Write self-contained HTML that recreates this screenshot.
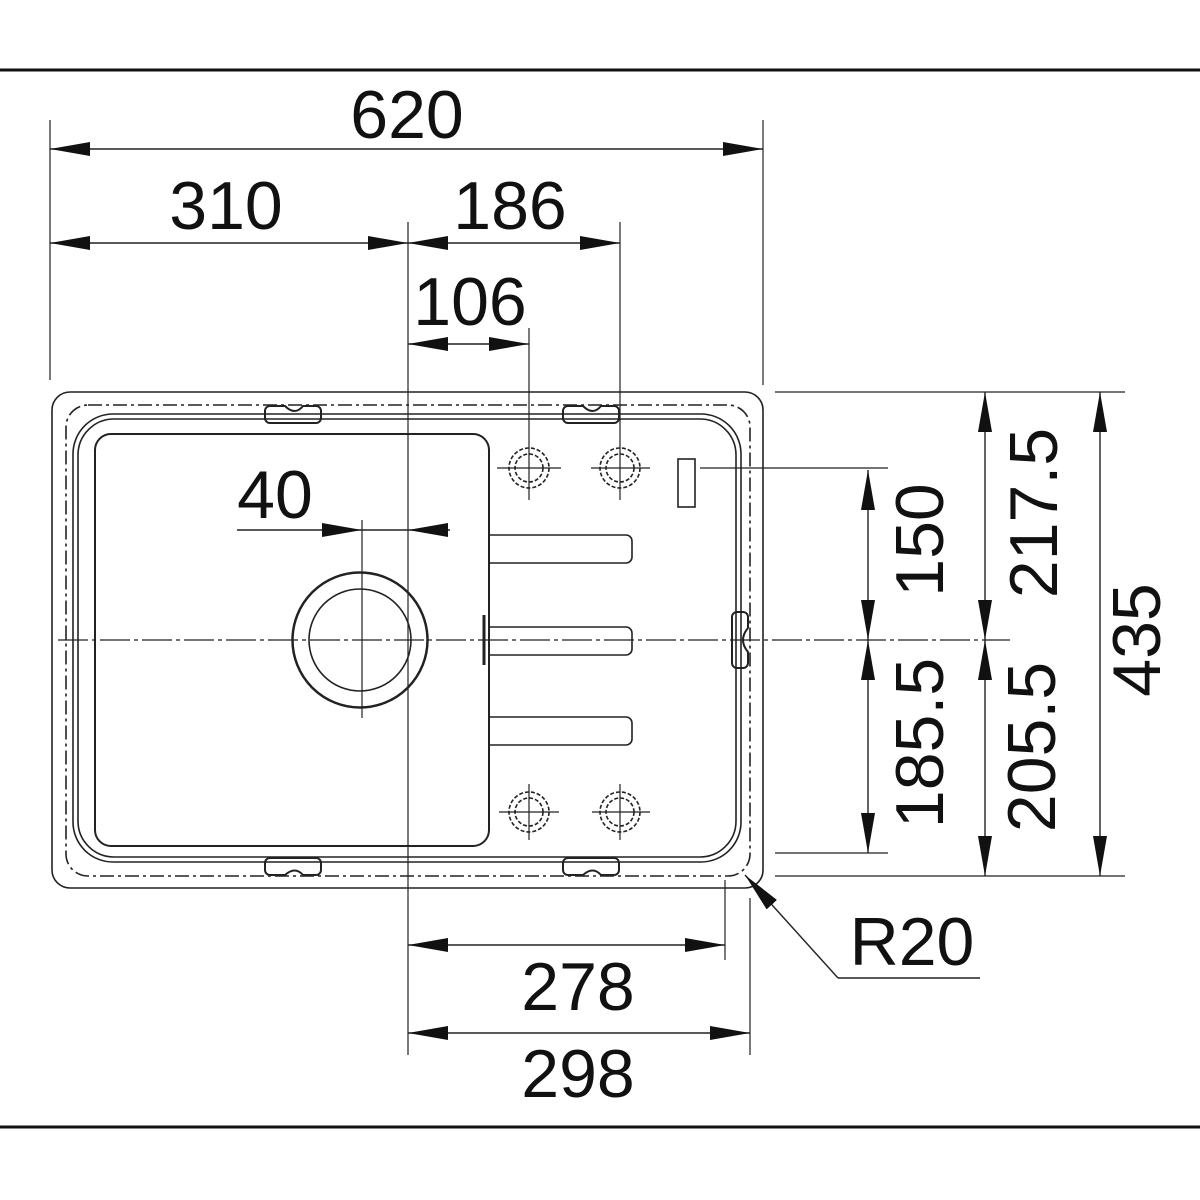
<!DOCTYPE html>
<html><head><meta charset="utf-8"><style>html,body{margin:0;padding:0;background:#fff}svg{display:block}</style></head>
<body>
<svg width="1200" height="1200" viewBox="0 0 1200 1200" xmlns="http://www.w3.org/2000/svg">
<defs>
<marker id="a" viewBox="0 0 40 14" refX="40" refY="7" markerWidth="40" markerHeight="14" markerUnits="userSpaceOnUse" orient="auto-start-reverse"><path d="M0,0 L40,7 L0,14 Z" fill="#111"/></marker>
</defs>
<g stroke="#111" fill="none">
<line x1="0" y1="70" x2="1200" y2="70" stroke-width="3"/>
<line x1="0" y1="1127" x2="1200" y2="1127" stroke-width="3"/>
</g>
<!-- sink -->
<g stroke="#222" fill="none" stroke-width="1.6">
<rect x="52" y="392" width="711" height="496" rx="18"/>
<rect x="66" y="405" width="684" height="471" rx="22" stroke-dasharray="14,4,3,4"/>
<rect x="73" y="414" width="668" height="448" rx="40"/>
<rect x="78" y="419" width="658" height="438" rx="36"/>
<rect x="95" y="434" width="394" height="412" rx="16" stroke-width="2"/>
<circle cx="360" cy="640" r="67.5" stroke-width="2.5"/>
<circle cx="360" cy="640" r="51"/>
<!-- ribs -->
<path d="M490,535 H626 a6,6 0 0 1 6,6 V557 a6,6 0 0 1 -6,6 H490"/>
<path d="M490,627 H626 a6,6 0 0 1 6,6 V649 a6,6 0 0 1 -6,6 H490"/>
<path d="M490,717 H626 a6,6 0 0 1 6,6 V739 a6,6 0 0 1 -6,6 H490"/>
<line x1="484" y1="615" x2="484" y2="665" stroke-width="3"/>
<rect x="678" y="459" width="17" height="48"/>
<!-- taps -->
<g stroke-dasharray="4,2">
<circle cx="529" cy="468" r="20"/><circle cx="529" cy="468" r="14"/>
<circle cx="620" cy="468" r="20"/><circle cx="620" cy="468" r="14"/>
<circle cx="529" cy="812" r="20"/><circle cx="529" cy="812" r="14"/>
<circle cx="620" cy="812" r="20"/><circle cx="620" cy="812" r="14"/>
</g>
<g stroke-width="1.2">
<line x1="497" y1="468" x2="561" y2="468"/><line x1="529" y1="440" x2="529" y2="500"/>
<line x1="591" y1="468" x2="650" y2="468"/><line x1="620" y1="440" x2="620" y2="500"/>
<line x1="499" y1="812" x2="559" y2="812"/><line x1="529" y1="784" x2="529" y2="840"/>
<line x1="592" y1="812" x2="650" y2="812"/><line x1="620" y1="784" x2="620" y2="840"/>
</g>
<!-- clips -->
<g stroke-width="2">
<path d="M270,406 H285 Q295,416 303,406 H316 a5,5 0 0 1 5,5 V418 a5,5 0 0 1 -5,5 H270 a5,5 0 0 1 -5,-5 V411 a5,5 0 0 1 5,-5Z"/>
<path d="M568,406 H583 Q593,416 601,406 H614 a5,5 0 0 1 5,5 V418 a5,5 0 0 1 -5,5 H568 a5,5 0 0 1 -5,-5 V411 a5,5 0 0 1 5,-5Z"/>
<path d="M270,858 H316 a5,5 0 0 1 5,5 V870 a5,5 0 0 1 -5,5 H303 Q295,866 285,875 H270 a5,5 0 0 1 -5,-5 V863 a5,5 0 0 1 5,-5Z"/>
<path d="M568,858 H614 a5,5 0 0 1 5,5 V870 a5,5 0 0 1 -5,5 H601 Q593,866 583,875 H568 a5,5 0 0 1 -5,-5 V863 a5,5 0 0 1 5,-5Z"/>
<path d="M737,612 H743 a5,5 0 0 1 5,5 V628 Q738,640 748,652 V663 a5,5 0 0 1 -5,5 H737 a5,5 0 0 1 -5,-5 V617 a5,5 0 0 1 5,-5Z"/>
</g>
</g>
<!-- centre / extension lines -->
<g stroke="#222" stroke-width="1.2" fill="none">
<line x1="58" y1="640" x2="1010" y2="640" stroke-dasharray="30,4,4,4"/>
<line x1="408" y1="222" x2="408" y2="1055"/>
<line x1="362" y1="520" x2="362" y2="718"/>
<line x1="50" y1="120" x2="50" y2="380"/>
<line x1="763" y1="120" x2="763" y2="385"/>
<line x1="620" y1="222" x2="620" y2="440"/>
<line x1="529" y1="328" x2="529" y2="440"/>
<line x1="700" y1="468" x2="888" y2="468"/>
<line x1="775" y1="853" x2="888" y2="853"/>
<line x1="775" y1="392" x2="1125" y2="392"/>
<line x1="775" y1="876" x2="1125" y2="876"/>
<line x1="725" y1="880" x2="725" y2="960"/>
<line x1="750" y1="898" x2="750" y2="1055"/>
</g>
<!-- dimension lines -->
<g stroke="#222" stroke-width="1.4" fill="none">
<line x1="50" y1="149" x2="763" y2="149" marker-start="url(#a)" marker-end="url(#a)"/>
<line x1="50" y1="243" x2="408" y2="243" marker-start="url(#a)" marker-end="url(#a)"/>
<line x1="408" y1="243" x2="620" y2="243" marker-start="url(#a)" marker-end="url(#a)"/>
<line x1="408" y1="344" x2="529" y2="344" marker-start="url(#a)" marker-end="url(#a)"/>
<line x1="237" y1="530" x2="362" y2="530" marker-end="url(#a)"/>
<line x1="450" y1="530" x2="408" y2="530" marker-end="url(#a)"/>
<line x1="362" y1="530" x2="408" y2="530"/>
<line x1="868" y1="470" x2="868" y2="640" marker-start="url(#a)" marker-end="url(#a)"/>
<line x1="868" y1="640" x2="868" y2="853" marker-start="url(#a)" marker-end="url(#a)"/>
<line x1="985" y1="392" x2="985" y2="640" marker-start="url(#a)" marker-end="url(#a)"/>
<line x1="985" y1="640" x2="985" y2="876" marker-start="url(#a)" marker-end="url(#a)"/>
<line x1="1100" y1="392" x2="1100" y2="876" marker-start="url(#a)" marker-end="url(#a)"/>
<line x1="408" y1="945" x2="725" y2="945" marker-start="url(#a)" marker-end="url(#a)"/>
<line x1="408" y1="1033" x2="750" y2="1033" marker-start="url(#a)" marker-end="url(#a)"/>
<polyline points="838,978 980,978" />
<line x1="838" y1="978" x2="745" y2="875" marker-end="url(#a)"/>
</g>
<g font-family="Liberation Sans, sans-serif" font-size="68" fill="#111" text-anchor="middle">
<text x="407" y="138">620</text>
<text x="226" y="229">310</text>
<text x="510" y="229">186</text>
<text x="470" y="325">106</text>
<text x="275" y="518">40</text>
<text x="578" y="1010">278</text>
<text x="578" y="1097">298</text>
<text x="912" y="965">R20</text>
<text transform="translate(943,540) rotate(-90)">150</text>
<text transform="translate(943,743) rotate(-90)">185.5</text>
<text transform="translate(1057,513) rotate(-90)">217.5</text>
<text transform="translate(1055,747) rotate(-90)">205.5</text>
<text transform="translate(1160,640) rotate(-90)">435</text>
</g>
</svg>
</body></html>
